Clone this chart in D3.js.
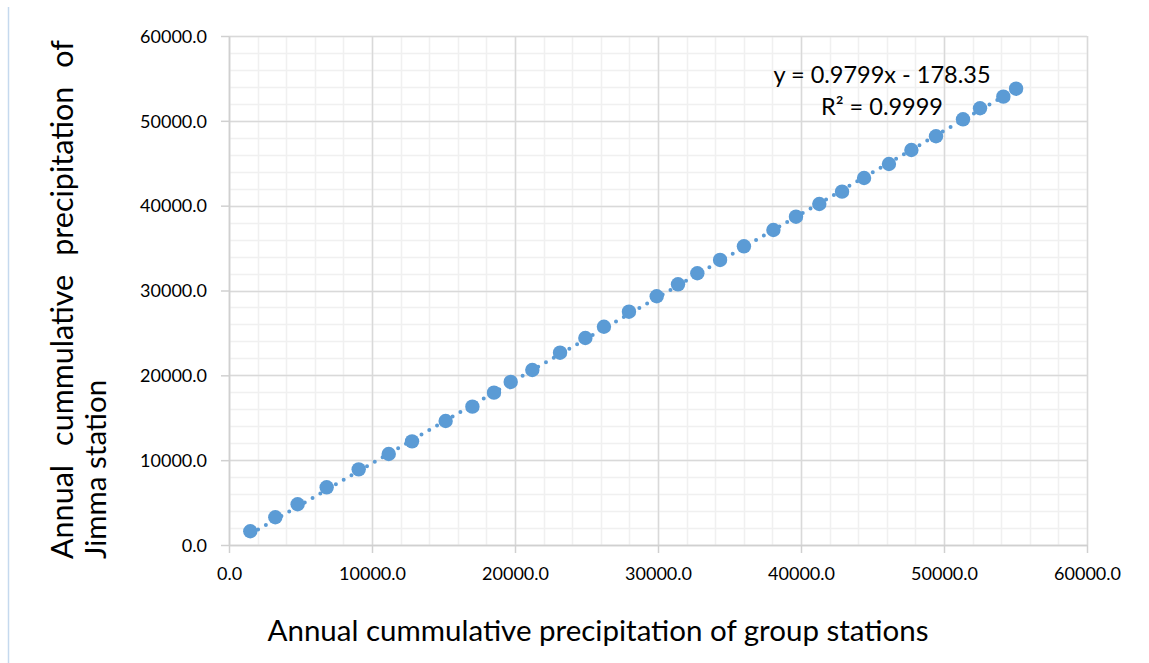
<!DOCTYPE html>
<html>
<head>
<meta charset="utf-8">
<script src="https://cdn.jsdelivr.net/npm/d3@7"></script>
<style>
  body { margin: 0; background: #fff; }
  text { font-family: Lato, "Open Sans", sans-serif; fill: #000; }
</style>
</head>
<body>
<svg width="1149" height="663"></svg>
<script>
// cumulative precipitation, group stations (x) vs Jimma station (y)
var groupCum = [1490, 3240, 4800, 6830, 9070, 11170, 12800, 15150, 17020, 18530,
  19700, 21210, 23150, 24920, 26220, 27970, 29910, 31400, 32750, 34340,
  36010, 38070, 39650, 41280, 42870, 44410, 46150, 47720, 49440, 51330,
  52520, 54150, 55040];
var jimmaCum = [1620, 3270, 4800, 6800, 8920, 10730, 12220, 14620, 16310, 17960,
  19220, 20630, 22670, 24400, 25730, 27500, 29320, 30730, 32030, 33600,
  35210, 37130, 38700, 40200, 41650, 43260, 44910, 46560, 48180, 50180,
  51480, 52850, 53790];
var ticks = [0, 10000, 20000, 30000, 40000, 50000, 60000];
var slope = 0.9799, intercept = -178.35;
var eqLabel = "y = 0.9799x - 178.35";
var r2Label = "R² = 0.9999";

var svg = d3.select("svg"),
    margin = {top: 36, right: 62, bottom: 118, left: 229},
    width = +svg.attr("width") - margin.left - margin.right,
    height = +svg.attr("height") - margin.top - margin.bottom;

// faint frame line on the left edge
svg.append("line")
    .attr("x1", 8.5).attr("x2", 8.5).attr("y1", 7).attr("y2", 663)
    .attr("stroke", "#c5d9ee").attr("stroke-width", 1.5);

var x = d3.scaleLinear().domain([0, 60000]).range([0, width]),
    y = d3.scaleLinear().domain([0, 60000]).range([height, 0]);

var g = svg.append("g")
    .attr("transform", "translate(" + margin.left + "," + margin.top + ")");

// minor grid
var minor = d3.range(0, 60001, 2000);
g.selectAll(".mx").data(minor).enter().append("line")
    .attr("x1", d => Math.round(x(d)) + 0.5).attr("x2", d => Math.round(x(d)) + 0.5)
    .attr("y1", 0).attr("y2", height)
    .attr("stroke", "#f0f0f0").attr("stroke-width", 1.5);
g.selectAll(".my").data(minor).enter().append("line")
    .attr("y1", d => Math.round(y(d)) + 0.5).attr("y2", d => Math.round(y(d)) + 0.5)
    .attr("x1", 0).attr("x2", width)
    .attr("stroke", "#f0f0f0").attr("stroke-width", 1.5);

// major grid
g.selectAll(".gx").data(ticks).enter().append("line")
    .attr("x1", d => Math.round(x(d)) + 0.5).attr("x2", d => Math.round(x(d)) + 0.5)
    .attr("y1", 0).attr("y2", height)
    .attr("stroke", "#d9d9d9").attr("stroke-width", 1.5);
g.selectAll(".gy").data(ticks).enter().append("line")
    .attr("y1", d => Math.round(y(d)) + 0.5).attr("y2", d => Math.round(y(d)) + 0.5)
    .attr("x1", 0).attr("x2", width)
    .attr("stroke", "#d9d9d9").attr("stroke-width", 1.5);

// axes
var fmt = d3.format(".1f");
var xAxis = g.append("g")
    .attr("transform", "translate(0," + height + ")")
    .call(d3.axisBottom(x).tickValues(ticks).tickFormat(fmt).tickSizeInner(8).tickSizeOuter(0).tickPadding(14));
var yAxis = g.append("g")
    .call(d3.axisLeft(y).tickValues(ticks).tickFormat(fmt).tickSizeInner(8).tickSizeOuter(0).tickPadding(14));
[xAxis, yAxis].forEach(function(a) {
  a.select(".domain").attr("stroke", "#d0d0d0").attr("stroke-width", 1.5);
  a.selectAll(".tick line").attr("stroke", "#d0d0d0").attr("stroke-width", 1.5);
  a.selectAll(".tick text").style("font-family", "Lato, sans-serif").style("font-size", "18px").attr("fill", "#000");
});
yAxis.selectAll(".tick text").attr("dy", "0.35em");

// trend line (dotted)
var x0 = d3.min(groupCum), x1 = d3.max(groupCum);
g.append("line")
    .attr("x1", x(x0)).attr("y1", y(slope * x0 + intercept))
    .attr("x2", x(x1)).attr("y2", y(slope * x1 + intercept))
    .attr("stroke", "#5b9bd5").attr("stroke-width", 4)
    .attr("stroke-linecap", "round").attr("stroke-dasharray", "0 9");

// points
g.selectAll(".dot").data(groupCum).enter().append("circle")
    .attr("cx", d => x(d))
    .attr("cy", (d, i) => y(jimmaCum[i]))
    .attr("r", 7.2)
    .attr("fill", "#5b9bd5");

// equation label
g.append("text").attr("x", 653).attr("y", 47).attr("text-anchor", "middle")
    .style("font-size", "23.5px").text(eqLabel);
g.append("text").attr("x", 653).attr("y", 79).attr("text-anchor", "middle")
    .style("font-size", "23.5px").text(r2Label);

// x axis title
svg.append("text").attr("x", 598).attr("y", 641).attr("text-anchor", "middle")
    .style("font-size", "29.5px").text("Annual cummulative precipitation of group stations");

// y axis title, first line justified between bottom and top
var yWords = ["Annual", "cummulative", "precipitation", "of"];
var lineStart = 559, lineEnd = 40;
var wordNodes = yWords.map(function(w) {
  return svg.append("text").style("font-size", "30.5px").text(w);
});
var lens = wordNodes.map(function(t) { return t.node().getComputedTextLength(); });
var gap = ((lineStart - lineEnd) - d3.sum(lens)) / (yWords.length - 1);
var pos = lineStart;
wordNodes.forEach(function(t, i) {
  t.attr("transform", "translate(73," + pos + ") rotate(-90)");
  pos -= lens[i] + gap;
});
svg.append("text")
    .attr("transform", "translate(106,559) rotate(-90)")
    .style("font-size", "29.5px").text("Jimma station");
</script>
</body>
</html>
